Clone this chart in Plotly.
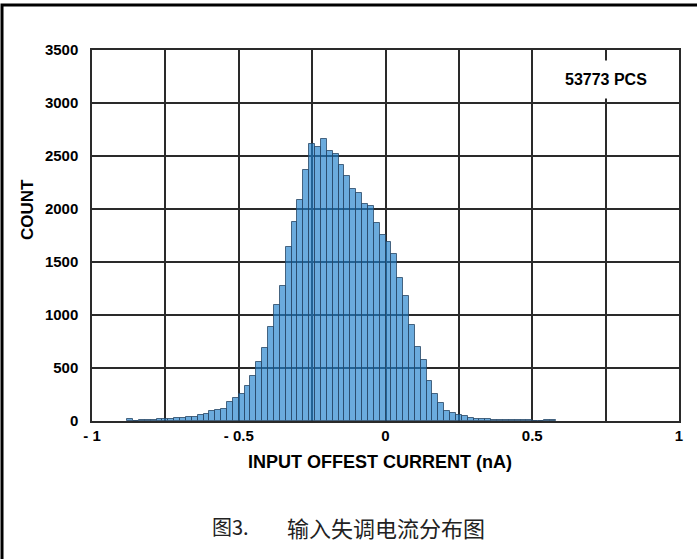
import plotly.graph_objects as go

# ---- data ----
bin_left = [-0.88, -0.86, -0.84, -0.82, -0.80, -0.78, -0.76, -0.74, -0.72, -0.70,
            -0.68, -0.66, -0.64, -0.62, -0.60, -0.58, -0.56, -0.54, -0.52, -0.50,
            -0.48, -0.46, -0.44, -0.42, -0.40, -0.38, -0.36, -0.34, -0.32, -0.30,
            -0.28, -0.26, -0.24, -0.22, -0.20, -0.18, -0.16, -0.14, -0.12, -0.10,
            -0.08, -0.06, -0.04, -0.02, 0.00, 0.02, 0.04, 0.06, 0.08, 0.10,
            0.12, 0.14, 0.16, 0.18, 0.20, 0.22, 0.24, 0.26, 0.28, 0.30,
            0.32, 0.34, 0.36, 0.38, 0.40, 0.42, 0.44, 0.46, 0.48, 0.50,
            0.52, 0.54, 0.56]
counts = [16, 4, 6, 7, 12, 16, 16, 22, 33, 33,
          34, 42, 56, 68, 94, 102, 110, 176, 219, 257,
          330, 426, 553, 685, 888, 1091, 1278, 1638, 1882, 2085,
          2366, 2610, 2585, 2663, 2547, 2516, 2419, 2313, 2188, 2153,
          2047, 2028, 1872, 1757, 1685, 1575, 1350, 1178, 906, 700,
          577, 381, 257, 166, 97, 77, 61, 46, 30, 22,
          16, 15, 10, 9, 6, 6, 5, 5, 5, 3,
          2, 5, 5]
bin_width = 0.02

x_tickvals = [-1, -0.75, -0.5, -0.25, 0, 0.25, 0.5, 0.75, 1]
x_ticktext = ["- 1", "", "- 0.5", "", "0", "", "0.5", "", "1"]
y_tickvals = [0, 500, 1000, 1500, 2000, 2500, 3000, 3500]
y_ticktext = ["0", "500", "1000", "1500", "2000", "2500", "3000", "3500"]

x_title = "INPUT OFFEST CURRENT (nA)"
y_title = "COUNT"
note_text = "53773 PCS"
caption_num = "图3."
caption_text = "输入失调电流分布图"

FONT = "Liberation Sans, Arial, sans-serif"
GRID = "#2a2a2a"

fig = go.Figure()
fig.add_trace(go.Bar(
    x=bin_left, y=counts, width=bin_width, offset=0,
    marker=dict(color="rgba(30,128,204,0.66)",
                line=dict(color="rgba(40,70,100,0.8)", width=1)),
    showlegend=False,
))

fig.update_layout(
    width=697, height=559,
    margin=dict(l=92, r=18, t=50, b=138, pad=0),
    paper_bgcolor="white", plot_bgcolor="white",
    bargap=0,
    font=dict(family=FONT, color="black"),
    xaxis=dict(range=[-1, 1], tickmode="array", tickvals=x_tickvals, ticktext=x_ticktext,
               showgrid=True, gridcolor=GRID, gridwidth=1.5,
               showline=True, linecolor=GRID, linewidth=1.5, mirror=True,
               zeroline=False, ticks="", ticklabelstandoff=0,
               tickfont=dict(family=FONT, size=15, weight="bold", color="black")),
    yaxis=dict(range=[0, 3500], tickmode="array", tickvals=y_tickvals, ticktext=y_ticktext,
               showgrid=True, gridcolor=GRID, gridwidth=1.5,
               showline=True, linecolor=GRID, linewidth=1.5, mirror=True,
               zeroline=False, ticks="", ticklabelstandoff=9,
               tickfont=dict(family=FONT, size=15, weight="bold", color="black")),
)

fig.add_annotation(x=0.75, y=3220, xref="x", yref="y", text=note_text, showarrow=False,
                   font=dict(family=FONT, size=16, weight="bold", color="black"),
                   bgcolor="white", borderpad=10)
fig.add_annotation(x=0.4898, y=-0.1105, xref="paper", yref="paper", text=x_title,
                   showarrow=False, xanchor="center", yanchor="middle",
                   font=dict(family=FONT, size=18, weight="bold", color="black"))
fig.add_annotation(x=-0.1107, y=0.5687, xref="paper", yref="paper", text=y_title,
                   showarrow=False, textangle=-90, xanchor="center", yanchor="middle",
                   font=dict(family=FONT, size=17, weight="bold", color="black"))
fig.add_annotation(x=0.236, y=-0.2857, xref="paper", yref="paper", text=caption_num,
                   showarrow=False, xanchor="center", yanchor="middle",
                   font=dict(family="Noto Sans CJK SC", size=20, color="#222"))
fig.add_annotation(x=0.5009, y=-0.2857, xref="paper", yref="paper", text=caption_text,
                   showarrow=False, xanchor="center", yanchor="middle",
                   font=dict(family="Noto Sans CJK SC", size=22, color="#222"))

# outer frame of the figure (cropped on the right and at the bottom)
fig.add_shape(type="rect", xref="paper", yref="paper",
              x0=-0.1533, x1=1.06, y0=-0.5, y1=1.1213,
              line=dict(color="black", width=3), fillcolor="rgba(0,0,0,0)")

fig.write_html("out.html", config={"displayModeBar": False},
               post_script="document.body.style.margin='0px';")
